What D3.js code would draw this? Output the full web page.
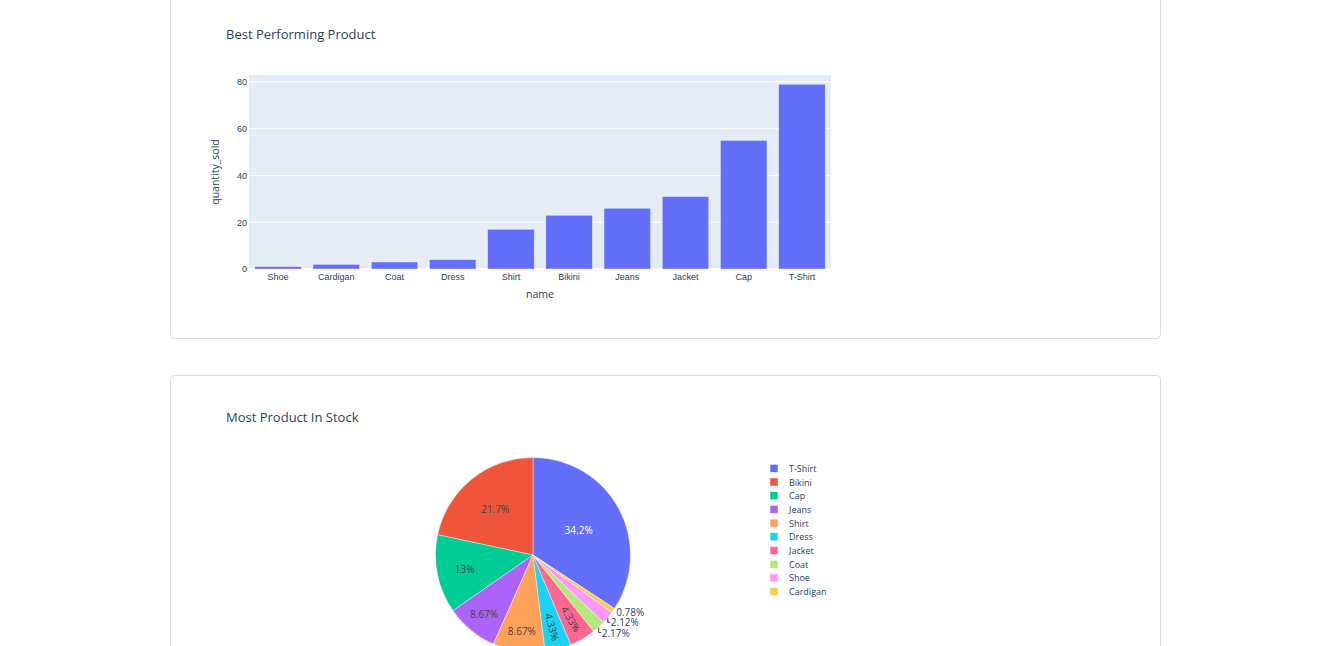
<!DOCTYPE html>
<html><head><meta charset="utf-8">
<script src="https://cdn.jsdelivr.net/npm/d3@7"></script>
<style>
body{margin:0;background:#fff;}
svg{display:block;font-family:"Open Sans",verdana,arial,sans-serif;}
</style>
</head><body>
<svg id="c" width="1322" height="646"></svg>
<script>
// ---- data ----
const barTitle = "Best Performing Product";
const barCategories = ["Shoe","Cardigan","Coat","Dress","Shirt","Bikini","Jeans","Jacket","Cap","T-Shirt"];
const barValues = [1,2,3,4,17,23,26,31,55,79];
const yTicks = [0,20,40,60,80];
const xAxisTitle = "name";
const yAxisTitle = "quantity_sold";

const pieTitle = "Most Product In Stock";
const pieCategories = ["T-Shirt","Bikini","Cap","Jeans","Shirt","Dress","Jacket","Coat","Shoe","Cardigan"];
const pieValues = [790,500,300,200,200,100,100,50,49,18];
const pieColors = ["#636efa","#EF553B","#00cc96","#ab63fa","#FFA15A","#19d3f3","#FF6692","#B6E880","#FF97FF","#FECB52"];

const svg = d3.select("#c");
const TXT = "#2a3f5f";

// ---- cards ----
svg.append("rect").attr("x",170.5).attr("y",-10).attr("width",990).attr("height",348.5)
  .attr("rx",4).attr("fill","#fff").attr("stroke","#dcdcdc");
svg.append("rect").attr("x",170.5).attr("y",375.5).attr("width",990).attr("height",300)
  .attr("rx",4).attr("fill","#fff").attr("stroke","#dcdcdc");

// ---- bar chart ----
const px0 = 249, px1 = 831, py0 = 75, py1 = 269;
svg.append("text").attr("x",226).attr("y",39).attr("font-size",13).attr("fill",TXT).text(barTitle);
svg.append("rect").attr("x",px0).attr("y",py0).attr("width",px1-px0).attr("height",py1-py0).attr("fill","#E5ECF6");

const x = d3.scaleBand().domain(barCategories).range([px0,px1]).paddingInner(0.2).paddingOuter(0.1);
const y = d3.scaleLinear().domain([0, d3.max(barValues)*1.05]).range([py1,py0]);

const grid = svg.append("g");
yTicks.forEach(t=>{
  grid.append("line").attr("x1",px0).attr("x2",px1).attr("y1",y(t)).attr("y2",y(t))
    .attr("stroke","#fff").attr("stroke-width", t===0?2:1);
});

svg.append("g").selectAll("rect").data(barValues).join("rect")
  .attr("x",(d,i)=>x(barCategories[i])).attr("width",x.bandwidth())
  .attr("y",d=>y(d)).attr("height",d=>y(0)-y(d))
  .attr("fill","#636efa").attr("stroke","#E5ECF6").attr("stroke-width",0.5);

const yAxis = svg.append("g").attr("transform",`translate(${px0},0)`)
  .call(d3.axisLeft(y).tickValues(yTicks).tickSize(0).tickPadding(2));
yAxis.select(".domain").remove();
yAxis.selectAll("text").attr("font-size",9).attr("fill",TXT).attr("font-family",null);

const xAxis = svg.append("g").attr("transform",`translate(0,${py1})`)
  .call(d3.axisBottom(x).tickSize(0).tickPadding(4.5));
xAxis.select(".domain").remove();
xAxis.selectAll("text").attr("font-size",9).attr("fill",TXT).attr("font-family",null);

svg.append("text").attr("x",(px0+px1)/2).attr("y",297.5).attr("text-anchor","middle")
  .attr("font-size",10.5).attr("fill",TXT).text(xAxisTitle);
svg.append("text").attr("transform",`translate(218.5,${(py0+py1)/2}) rotate(-90)`).attr("text-anchor","middle")
  .attr("font-size",10.5).attr("fill",TXT).text(yAxisTitle);

// ---- pie chart ----
svg.append("text").attr("x",226).attr("y",422).attr("font-size",13).attr("fill",TXT).text(pieTitle);

const cx = 533, cy = 555, R = 97.5;
const total = d3.sum(pieValues);
const a0 = 2*Math.PI*pieValues[0]/total;
const pie = d3.pie().sort(null).startAngle(a0).endAngle(a0-2*Math.PI);
const arcs = pie(pieValues);
const arcGen = d3.arc().innerRadius(0).outerRadius(R);

const pg = svg.append("g").attr("transform",`translate(${cx},${cy})`);
pg.selectAll("path").data(arcs).join("path")
  .attr("d",arcGen).attr("fill",(d,i)=>pieColors[i]).attr("stroke","#fff").attr("stroke-width",0.4);

const fmt = v => {
  const p = v/total*100;
  return (+p.toPrecision(3)).toString() + "%";
};
const bright = c => { const k = d3.rgb(c); return (k.r*299+k.g*587+k.b*114)/1000; };

const outside = [];
arcs.forEach((d,i)=>{
  const s = d.startAngle, e = d.endAngle;
  const mid = (s+e)/2, half = Math.abs(e-s)/2;
  const label = fmt(d.value);
  const t = pg.append("text").attr("font-size",10).attr("text-anchor","middle")
    .attr("dominant-baseline","central").text(label);
  const w = t.node().getComputedTextLength(), h = 12;
  const rIns = Math.min(Math.sin(half)/(1+Math.sin(half)), 0.5);
  const diam = Math.sqrt(w*w+h*h);
  const col = bright(pieColors[i]) < 128 ? "#fff" : "#444";
  if (rIns*R*2 >= diam) {
    const rc = (1-rIns)*R;
    t.attr("x",rc*Math.sin(mid)).attr("y",-rc*Math.cos(mid)).attr("fill",col);
  } else {
    const rc = R - w/2 - 9;
    const inner = rc - w/2;
    if (inner*2*Math.tan(half) >= h - 2) {
      let rot = mid*180/Math.PI - 90;
      rot = ((rot%360)+360)%360;
      if (rot>90 && rot<270) rot -= 180;
      t.attr("transform",`translate(${rc*Math.sin(mid)},${-rc*Math.cos(mid)}) rotate(${rot})`).attr("fill",col);
    } else {
      t.remove();
      outside.push({i, mid, label, w});
    }
  }
});

// outside labels with collision push (right side, going downward)
outside.sort((a,b)=>(-Math.cos(a.mid)) - (-Math.cos(b.mid)));
let lastY = -Infinity;
outside.forEach(o=>{
  const ax = R*Math.sin(o.mid), ay = -R*Math.cos(o.mid);
  let ty = ay + 1.5;
  if (ty < lastY + 10.3) ty = lastY + 10.3;
  lastY = ty;
  const tx = ax + 3;
  if (ty - (ay+1.5) > 1.5) {
    pg.append("path").attr("d",`M${ax},${ay+0.5}V${ty}H${tx-0.5}`)
      .attr("fill","none").attr("stroke",TXT).attr("stroke-width",1);
  }
  pg.append("text").attr("x",tx).attr("y",ty).attr("font-size",10).attr("dominant-baseline","central")
    .attr("fill",TXT).text(o.label);
});

// legend
const lg = svg.append("g");
pieCategories.forEach((c,i)=>{
  const ly = 468.3 + i*13.7;
  lg.append("rect").attr("x",770).attr("y",ly-4).attr("width",8).attr("height",8)
    .attr("fill",pieColors[i]).attr("stroke","#fff").attr("stroke-width",0.5);
  lg.append("text").attr("x",789).attr("y",ly).attr("dominant-baseline","central")
    .attr("font-size",9).attr("fill",TXT).text(c);
});
</script>
</body></html>
